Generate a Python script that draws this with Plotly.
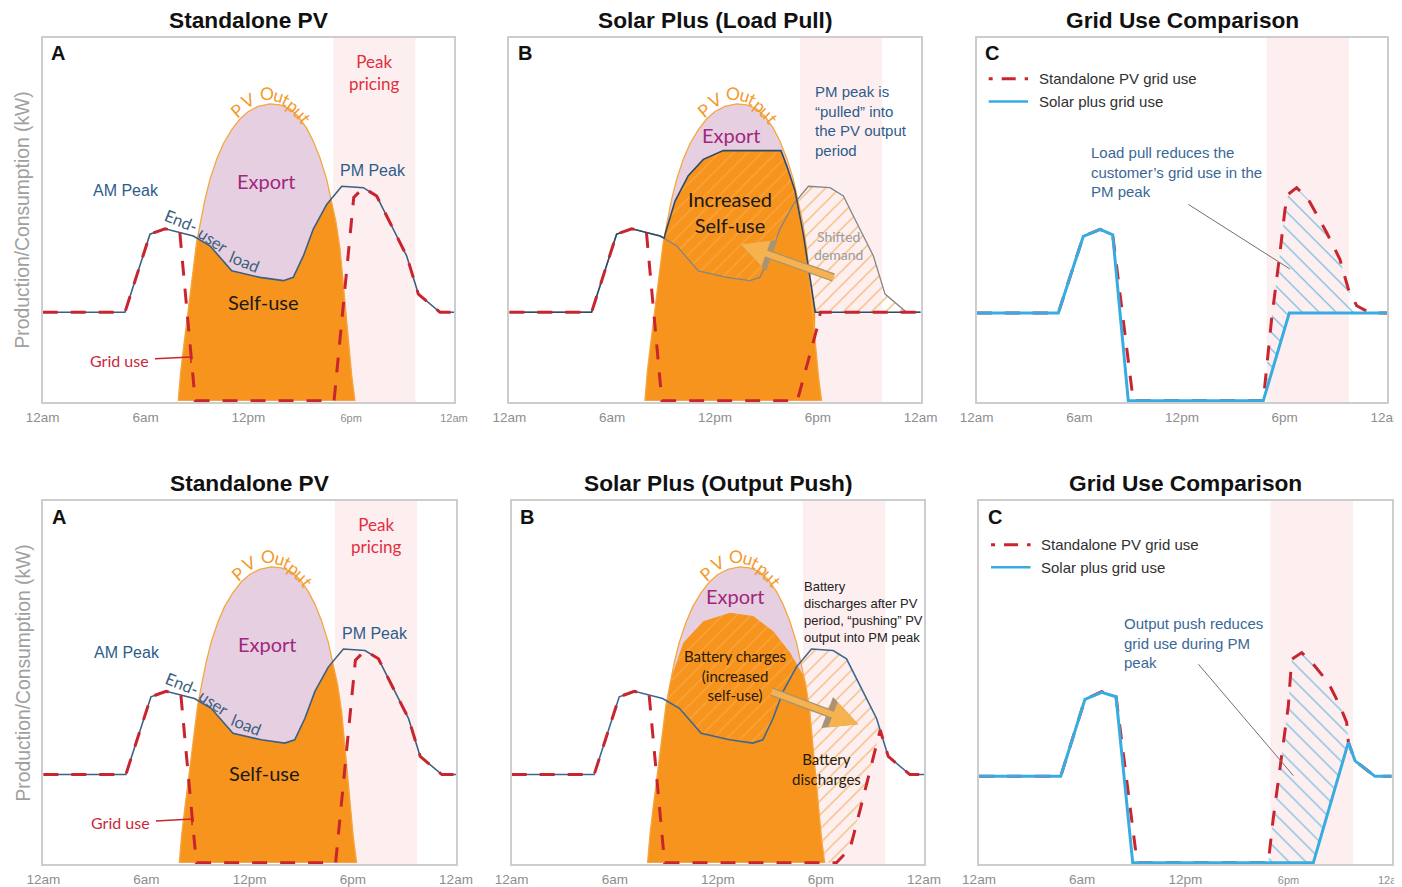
import plotly.graph_objects as go
from plotly.subplots import make_subplots

# ------------------------------------------------------------------ data
hour_ticks = [0, 6, 12, 18, 24]
hour_labels = ["12am", "6am", "12pm", "6pm", "12am"]
peak_start, peak_end = 16.95, 21.75

# PV output (shared by A and B panels)
pv_h = [7.91, 8.05, 8.21, 8.40, 8.60, 8.79, 8.98, 9.22, 9.47, 9.76, 10.15, 10.54, 11.03, 11.51, 12.00,
        12.58, 13.26, 13.85, 14.43, 14.92, 15.40, 15.79, 16.18, 16.57, 16.86, 17.12, 17.35, 17.50,
        17.66, 17.83, 18.03, 18.22]
pv_v = [0, 7.9, 14.3, 21.7, 29.9, 37.2, 43.6, 49.5, 55.5, 61.0, 66.5, 70.8, 74.7, 77.6, 79.7,
        81.1, 81.8, 81.5, 80.4, 78.3, 75.1, 71.5, 66.9, 61.0, 55.0, 49.1, 41.8, 34.5,
        26.2, 17.1, 7.0, 0]

# End-user load (original)
load_h = [0, 4.80, 6.26, 7.14, 8.79, 9.76, 11.03, 12.68, 14.04, 14.62, 15.21, 15.79, 16.57, 17.45,
          18.71, 19.49, 20.07, 21.24, 21.92, 23.18, 24]
load_v = [24.4, 24.4, 45.9, 47.4, 45.4, 42.7, 35.8, 34.0, 33.1, 34.0, 39.9, 47.3, 54.1, 59.1,
          58.7, 56.4, 50.9, 39.9, 29.4, 24.4, 24.4]

# Panel A: grid use and self-use region
grid_a_h = [0, 4.80, 6.26, 7.14, 8.0, 8.9, 17.0, 18.15, 18.71, 19.49, 20.07, 21.24, 21.92, 23.18, 24]
grid_a_v = [24.4, 24.4, 45.9, 47.4, 46.4, 0, 0, 56.0, 58.7, 56.4, 50.9, 39.9, 29.4, 24.4, 24.4]
selfuse_a_h = [7.91, 8.05, 8.21, 8.40, 8.60, 8.79, 8.98, 9.03, 9.76, 11.03, 12.68, 14.04, 14.62, 15.21,
               15.79, 16.57, 16.82, 17.12, 17.35, 17.50, 17.66, 17.83, 18.03, 18.22]
selfuse_a_v = [0, 7.9, 14.3, 21.7, 29.9, 37.2, 43.6, 44.8, 42.7, 35.8, 34.0, 33.1, 34.0, 39.9,
               47.3, 54.1, 55.5, 49.1, 41.8, 34.5, 26.2, 17.1, 7.0, 0]

# Panel B (load pull)
newload_b1_h = [0, 4.80, 6.26, 7.14, 8.79, 9.03, 9.22, 9.67, 10.44, 11.32, 12.48, 15.85, 16.20, 16.66,
                17.15, 17.54, 17.85, 24]
newload_b1_v = [24.4, 24.4, 45.9, 47.4, 45.4, 44.8, 48.0, 55.0, 62.0, 66.5, 68.9, 68.9, 64.5, 58.0,
                46.0, 34.0, 24.4, 24.4]
selfuse_b1_h = [7.91, 8.05, 8.21, 8.40, 8.60, 8.79, 8.98, 9.03, 9.22, 9.67, 10.44, 11.32, 12.48, 15.85,
                16.20, 16.66, 17.15, 17.54, 17.85, 17.83, 18.03, 18.22]
selfuse_b1_v = [0, 7.9, 14.3, 21.7, 29.9, 37.2, 43.6, 44.8, 48.0, 55.0, 62.0, 66.5, 68.9, 68.9,
                64.5, 58.0, 46.0, 34.0, 24.4, 17.1, 7.0, 0]
gain_b1_h = [9.03, 9.22, 9.67, 10.44, 11.32, 12.48, 15.85, 16.20, 16.66, 16.78, 16.57, 15.79, 15.21,
             14.62, 14.04, 12.68, 11.03, 9.76, 9.03]
gain_b1_v = [44.8, 48.0, 55.0, 62.0, 66.5, 68.9, 68.9, 64.5, 58.0, 55.5, 54.1, 47.3, 39.9,
             34.0, 33.1, 34.0, 35.8, 42.7, 44.8]
shifted_b1_h = [16.78, 17.45, 18.71, 19.49, 20.07, 21.24, 21.92, 23.18, 17.85, 17.54, 17.15, 16.78]
shifted_b1_v = [55.5, 59.1, 58.7, 56.4, 50.9, 39.9, 29.4, 24.4, 24.4, 34.0, 46.0, 55.5]
grid_b1_h = [0, 4.80, 6.26, 7.14, 8.0, 8.9, 16.8, 17.95, 18.15, 24]
grid_b1_v = [24.4, 24.4, 45.9, 47.4, 46.4, 0, 0, 20.0, 24.4, 24.4]

# Panel C (load pull comparison)
c1_standalone_h = [0, 4.77, 6.23, 7.21, 7.95, 9.15, 16.75, 17.24, 17.73, 18.02, 18.21, 18.70, 19.38,
                   20.46, 21.23, 21.72, 22.21, 22.99, 24]
c1_standalone_v = [24.2, 24.2, 45.3, 47.2, 45.7, 0, 0, 22.6, 40.9, 52.7, 56.9, 58.7, 55.5,
                   46.3, 39.0, 30.8, 26.2, 24.2, 24.2]
c1_solarplus_h = [0, 4.77, 6.23, 7.21, 7.95, 8.86, 16.75, 18.27, 24]
c1_solarplus_v = [24.2, 24.2, 45.3, 47.2, 45.7, 0, 0, 24.2, 24.2]
c1_saving_h = [16.75, 17.24, 17.73, 18.02, 18.21, 18.70, 19.38, 20.46, 21.23, 21.72, 22.21, 22.99,
               18.27, 16.75]
c1_saving_v = [0, 22.6, 40.9, 52.7, 56.9, 58.7, 55.5, 46.3, 39.0, 30.8, 26.2, 24.2, 24.2, 0]

# Panel B (output push)
selfuse_b2_h = [7.91, 8.05, 8.21, 8.40, 8.60, 8.79, 8.98, 9.22, 9.32, 9.99, 11.15, 12.71, 14.06, 15.23,
                16.20, 16.95, 17.12, 17.35, 17.50, 17.66, 17.83, 18.03, 18.22]
selfuse_b2_v = [0, 7.9, 14.3, 21.7, 29.9, 37.2, 43.6, 49.5, 51.6, 60.8, 66.8, 69.1, 68.2, 64.0,
                58.1, 52.0, 49.1, 41.8, 34.5, 26.2, 17.1, 7.0, 0]
charge_b2_h = [9.03, 9.22, 9.32, 9.99, 11.15, 12.71, 14.06, 15.23, 16.20, 16.65, 16.57, 15.79, 15.21,
               14.62, 14.04, 12.68, 11.03, 9.76, 9.03]
charge_b2_v = [44.8, 49.5, 51.6, 60.8, 66.8, 69.1, 68.2, 64.0, 58.1, 54.5, 54.1, 47.3, 39.9,
               34.0, 33.1, 34.0, 35.8, 42.7, 44.8]
discharge_b2_h = [16.82, 17.12, 17.35, 17.50, 17.66, 17.83, 18.03, 18.22, 18.9, 19.7, 20.3, 20.9, 21.45,
                  21.24, 20.07, 19.49, 18.71, 17.45, 16.82]
discharge_b2_v = [55.5, 49.1, 41.8, 34.5, 26.2, 17.1, 7.0, 0, 0, 4.0, 15.0, 26.0, 36.7,
                  39.9, 50.9, 56.4, 58.7, 59.1, 55.5]
grid_b2_h = [0, 4.80, 6.26, 7.14, 8.0, 8.9, 18.9, 19.7, 20.3, 20.9, 21.45, 21.92, 23.18, 24]
grid_b2_v = [24.4, 24.4, 45.9, 47.4, 46.4, 0, 0, 4.0, 15.0, 26.0, 36.7, 29.4, 24.4, 24.4]

# Panel C (output push comparison)
c2_standalone_h = [0, 4.75, 6.16, 7.13, 7.97, 9.2, 16.82, 17.11, 17.60, 17.99, 18.18, 18.77, 19.44,
                   20.31, 20.99, 21.38, 21.48, 21.87, 23.03, 24]
c2_standalone_v = [23.9, 23.9, 45.2, 47.3, 45.9, 0, 0, 12.2, 29.6, 43.4, 56.2, 58.1, 54.9,
                   49.8, 43.4, 38.8, 33.3, 28.2, 23.9, 23.9]
c2_solarplus_h = [0, 4.75, 6.16, 7.13, 7.97, 8.94, 19.44, 21.48, 21.87, 23.03, 24]
c2_solarplus_v = [23.9, 23.9, 45.2, 47.1, 45.9, 0, 0, 33.3, 28.2, 23.9, 23.9]
c2_saving_h = [16.82, 17.11, 17.60, 17.99, 18.18, 18.77, 19.44, 20.31, 20.99, 21.38, 21.48, 19.44, 16.82]
c2_saving_v = [0, 12.2, 29.6, 43.4, 56.2, 58.1, 54.9, 49.8, 43.4, 38.8, 33.3, 0, 0]

titles = ["Standalone PV", "Solar Plus (Load Pull)", "Grid Use Comparison",
          "Standalone PV", "Solar Plus (Output Push)", "Grid Use Comparison"]

# ------------------------------------------------------------------ style
W, H = 1402, 887
OFF = 8  # the page body adds an 8px margin; positions below are page pixels
ARIAL = "Liberation Sans, Arial, sans-serif"
CAL = "Lato, Carlito, sans-serif"
ORANGE = "#f7941d"
PINK = "#e6cfe1"
PVLINE = "#f5a640"
LOADC = "#3d5f80"
RED = "#c8252f"
SKY = "#38ace1"
BLUETXT = "#2e5c8a"
BAND = "#fdeff0"

boxes = {1: (42.7, 454.0, 37.7, 402.3), 2: (509.3, 920.7, 37.7, 402.3), 3: (976.7, 1387.3, 37.7, 402.3),
         4: (43.3, 456.0, 501.0, 864.3), 5: (511.7, 924.0, 501.0, 864.3), 6: (979.0, 1391.7, 501.0, 864.3)}


def px(x):
    return (x - OFF) / W


def py(y):
    return 1 - (y - OFF) / H


fig = make_subplots(rows=2, cols=3)


def refs(i):
    return ("x" if i == 1 else f"x{i}"), ("y" if i == 1 else f"y{i}")


def rc(i):
    return (i - 1) // 3 + 1, (i - 1) % 3 + 1


def add(i, tr):
    r, c = rc(i)
    fig.add_trace(tr, row=r, col=c)


def line(i, h, v, color, width, dash=None):
    add(i, go.Scatter(x=h, y=v, mode="lines", line=dict(color=color, width=width, dash=dash),
                      hoverinfo="skip"))


def area(i, h, v, color):
    add(i, go.Scatter(x=h, y=v, mode="lines", fill="toself", fillcolor=color,
                      line=dict(width=0), hoverinfo="skip"))


def hatch(i, h, v, shape, fg, size, solidity, opacity=1.0):
    add(i, go.Scatter(x=h, y=v, mode="lines", fill="toself", fillcolor="rgba(0,0,0,0)",
                      fillpattern=dict(shape=shape, fgcolor=fg, bgcolor="rgba(0,0,0,0)",
                                       size=size, solidity=solidity, fgopacity=opacity),
                      line=dict(width=0), hoverinfo="skip"))


def note(i, x, y, text, size, color, family=CAL, angle=0, xanchor="center", align="center"):
    xr, yr = refs(i)
    fig.add_annotation(x=x, y=y, xref=xr, yref=yr, text=text, showarrow=False, textangle=angle,
                       font=dict(size=size, color=color, family=family), xanchor=xanchor,
                       yanchor="middle", align=align)


def seg(i, x0, y0, x1, y1, color, width, dash=None):
    xr, yr = refs(i)
    fig.add_shape(type="line", xref=xr, yref=yr, x0=x0, y0=y0, x1=x1, y1=y1,
                  line=dict(color=color, width=width, dash=dash))


def arrow(i, tx, ty, hx, hy):
    xr, yr = refs(i)
    for col, w, s in (("#a89372", 8.5, 0.78), ("#f6b24e", 6, 0.9)):
        fig.add_annotation(x=hx, y=hy, ax=tx, ay=ty, xref=xr, yref=yr, axref=xr, ayref=yr, text="",
                           showarrow=True, arrowhead=2, arrowsize=s, arrowwidth=w,
                           arrowcolor=col, standoff=0, startstandoff=0)


def pv_label(i):
    chars = [("P", 11.36, 79.9, -40), ("V", 11.98, 82.7, -26), ("O", 13.07, 84.7, 2),
             ("u", 13.76, 84.1, 16), ("t", 14.20, 83.0, 27), ("p", 14.60, 81.3, 36),
             ("u", 15.00, 79.4, 44), ("t", 15.36, 77.5, 53)]
    for ch, x, y, a in chars:
        note(i, x, y, ch, 17.5, "#f39a2c", angle=a)


# ------------------------------------------------------------------ backgrounds
for i in range(1, 7):
    xr, yr = refs(i)
    fig.add_shape(type="rect", xref=xr, yref=f"{yr} domain", x0=peak_start, x1=peak_end, y0=0, y1=1,
                  fillcolor=BAND, line=dict(width=0), layer="below")

# ------------------------------------------------------------------ panels A
for i, su_y in ((1, 27.2), (4, 24.8)):
    area(i, pv_h, pv_v, PINK)
    area(i, selfuse_a_h, selfuse_a_v, ORANGE)
    line(i, pv_h, pv_v, PVLINE, 1.3)
    line(i, load_h, load_v, LOADC, 1.6)
    line(i, grid_a_h, grid_a_v, RED, 3, "15px,13px")
    pv_label(i)
    note(i, 19.35, 90.4, "Peak<br>pricing", 17, "#e0303f")
    note(i, 13.05, 60.6, "Export", 20, "#a1287c")
    note(i, 12.88, su_y, "Self-use", 20, "#1a1a1a")
    note(i, 4.86, 58.0, "AM Peak", 16, BLUETXT, family=ARIAL)
    note(i, 19.27, 63.5, "PM Peak", 16, BLUETXT, family=ARIAL)
    note(i, 8.05, 49.4, "End-", 16.5, LOADC, angle=22)
    note(i, 9.92, 44.2, "user", 16.5, LOADC, angle=34)
    note(i, 11.80, 38.2, "load", 16.5, LOADC, angle=22)
    note(i, 4.48, 11.1, "Grid use", 16, "#c8283c")
    seg(i, 6.55, 11.6, 8.65, 12.1, RED, 1.5)
    seg(i, 8.65, 13.8, 8.65, 10.4, RED, 1.5)

# ------------------------------------------------------------------ panel B (load pull)
i = 2
area(i, pv_h, pv_v, PINK)
area(i, selfuse_b1_h, selfuse_b1_v, ORANGE)
hatch(i, gain_b1_h, gain_b1_v, "/", "#ffffff", 10, 0.1, 0.2)
hatch(i, shifted_b1_h, shifted_b1_v, "/", "#f6bd78", 10, 0.14)
line(i, pv_h, pv_v, PVLINE, 1.3)
line(i, load_h, load_v, "#858585", 1.3)
line(i, newload_b1_h, newload_b1_v, "#2f4a66", 1.6)
line(i, grid_b1_h, grid_b1_v, RED, 3, "15px,13px")
pv_label(i)
note(i, 12.97, 73.3, "Export", 20, "#a1287c")
note(i, 12.87, 52.0, "Increased<br>Self-use", 20, "#1a1a1a")
note(i, 19.2, 42.8, "Shifted<br>demand", 14, "#9c9c9c")
note(i, 17.74, 77.0, "PM peak is<br>\u201cpulled\u201d into<br>the PV output<br>period", 15, BLUETXT,
     family=ARIAL, xanchor="left", align="left")
arrow(i, 19.0, 33.8, 13.5, 43.1)

# ------------------------------------------------------------------ panel B (output push)
i = 5
area(i, pv_h, pv_v, PINK)
area(i, selfuse_b2_h, selfuse_b2_v, ORANGE)
hatch(i, charge_b2_h, charge_b2_v, "/", "#ffffff", 10, 0.1, 0.2)
hatch(i, discharge_b2_h, discharge_b2_v, "/", "#f6bd78", 10, 0.14)
line(i, pv_h, pv_v, PVLINE, 1.3)
line(i, load_h, load_v, "#3d6790", 1.6)
line(i, grid_b2_h, grid_b2_v, RED, 3, "15px,13px")
pv_label(i)
note(i, 13.0, 73.7, "Export", 20, "#a1287c")
note(i, 13.0, 51.8, "Battery charges<br>(increased<br>self-use)", 15, "#2a1a08")
note(i, 16.88, 69.4, "Battery<br>discharges after PV<br>period, \u201cpushing\u201d PV<br>output into PM peak",
     13, "#222222", family=ARIAL, xanchor="left", align="left")
note(i, 18.33, 26.0, "Battery<br>discharges", 15, "#2a1a08")
arrow(i, 15.03, 47.5, 20.17, 38.3)

# ------------------------------------------------------------------ panels C
for i, red_h, red_v, sky_h, sky_v, sv_h, sv_v, leg_y, txt, tx, ty, p0, p1 in (
        (3, c1_standalone_h, c1_standalone_v, c1_solarplus_h, c1_solarplus_v, c1_saving_h, c1_saving_v,
         (88.7, 82.4), "Load pull reduces the<br>customer\u2019s grid use in the<br>PM peak", 6.56, 63.0,
         (12.37, 54.1), (18.31, 36.3)),
        (6, c2_standalone_h, c2_standalone_v, c2_solarplus_h, c2_solarplus_v, c2_saving_h, c2_saving_v,
         (87.9, 81.7), "Output push reduces<br>grid use during PM<br>peak", 8.3, 60.8,
         (12.76, 54.9), (18.28, 24.1))):
    hatch(i, sv_h, sv_v, "\\", "#5cb2e0", 12, 0.09)
    line(i, red_h, red_v, RED, 3, "15px,13px")
    line(i, sky_h, sky_v, SKY, 3)
    seg(i, 0.7, leg_y[0], 3.0, leg_y[0], RED, 3, "4px,9px,14px,9px")
    seg(i, 0.7, leg_y[1], 3.0, leg_y[1], SKY, 2.5)
    note(i, 3.5, leg_y[0], "Standalone PV grid use", 15, "#303030", family=ARIAL, xanchor="left")
    note(i, 3.5, leg_y[1], "Solar plus grid use", 15, "#303030", family=ARIAL, xanchor="left")
    note(i, tx, ty, txt, 15, "#3a6896", family=ARIAL, xanchor="left", align="left")
    seg(i, p0[0], p0[1], p1[0], p1[1], "#707070", 1)

# ------------------------------------------------------------------ axes, letters, titles
small = lambda s: f'<span style="font-size:11px">{s}</span>'
for i in range(1, 7):
    x0, x1, y0, y1 = boxes[i]
    r, c = rc(i)
    labels = list(hour_labels)
    if i in (1, 6):
        labels[3] = small(labels[3])
        labels[4] = small(labels[4])
    fig.update_xaxes(row=r, col=c, domain=[px(x0), px(x1)], range=[0, 24], tickvals=hour_ticks,
                     ticktext=labels, showgrid=False, zeroline=False, showline=True, mirror=True,
                     linecolor="#cdcdcd", linewidth=1.5, ticks="", ticklabelstandoff=2, automargin=False,
                     tickfont=dict(size=13.5, color="#8e8e8e", family=ARIAL), fixedrange=True)
    fig.update_yaxes(row=r, col=c, domain=[py(y1), py(y0)], range=[-0.4, 100], showgrid=False,
                     zeroline=False, showline=True, mirror=True, linecolor="#cdcdcd", linewidth=1.5,
                     showticklabels=False, ticks="", fixedrange=True, automargin=False)
    xr, yr = refs(i)
    fig.add_annotation(x=0.038, y=0.957, xref=f"{xr} domain", yref=f"{yr} domain",
                       text="<b>" + "ABCABC"[i - 1] + "</b>", showarrow=False,
                       font=dict(size=20, color="#111111", family=ARIAL), xanchor="center", yanchor="middle")
    fig.add_annotation(x=px((x0 + x1) / 2), y=py(20.5 if r == 1 else 483), xref="paper", yref="paper",
                       text="<b>" + titles[i - 1] + "</b>", showarrow=False, borderpad=0,
                       font=dict(size=22.7, color="#111111", family=ARIAL), xanchor="center", yanchor="middle")

for yc in (220, 673):
    fig.add_annotation(x=px(22.5), y=py(yc), xref="paper", yref="paper", text="Production/Consumption (kW)",
                       textangle=-90, showarrow=False, font=dict(size=19.3, color="#a0a0a0", family=ARIAL),
                       xanchor="center", yanchor="middle")

fig.update_layout(width=W, height=H, margin=dict(l=0, r=0, t=0, b=0, autoexpand=False),
                  paper_bgcolor="white", plot_bgcolor="white", showlegend=False)

fig.write_html("out.html")
